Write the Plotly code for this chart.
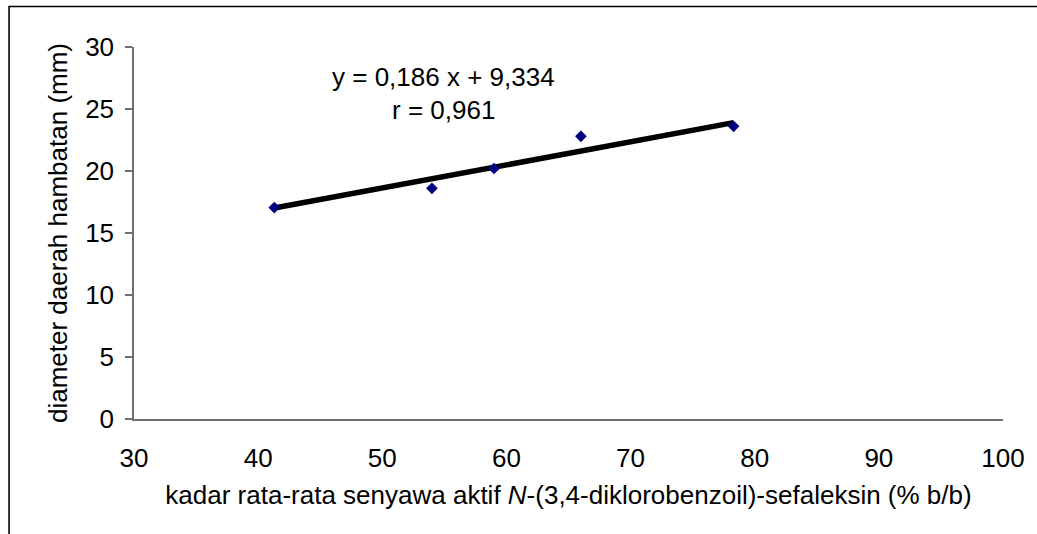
import numpy as np
import plotly.graph_objects as go

# Data
kadar = [41.3, 54.0, 59.0, 66.0, 78.3]          # % b/b
diameter = [17.05, 18.6, 20.2, 22.8, 23.6]       # mm
slope = 0.186
intercept = 9.334
r_value = 0.961

x_ticks = [30, 40, 50, 60, 70, 80, 90, 100]
y_ticks = [0, 5, 10, 15, 20, 25, 30]

W, H = 1037, 534
L, R, T, B = 134, 30, 47, 115

FONT = "Arial, 'Liberation Sans', sans-serif"
FS = 26

line_x = [min(kadar), max(kadar)]
line_y = [slope * v + intercept for v in line_x]

fig = go.Figure()
fig.add_trace(go.Scatter(
    x=line_x, y=line_y, mode="lines",
    line=dict(color="black", width=5.5),
    hoverinfo="skip", showlegend=False))
fig.add_trace(go.Scatter(
    x=kadar, y=diameter, mode="markers",
    marker=dict(symbol="diamond", size=9, color="#000080"),
    showlegend=False))

fmt = lambda v: f"{v:.3f}".replace(".", ",")
fig.add_annotation(x=54.9, y=27.6, xref="x", yref="y",
                   text=f"y = {fmt(slope)} x + {fmt(intercept)}",
                   showarrow=False, font=dict(size=FS, color="black", family=FONT))
fig.add_annotation(x=54.9, y=24.9, xref="x", yref="y",
                   text=f"r = {fmt(r_value)}",
                   showarrow=False, font=dict(size=FS, color="black", family=FONT))

pw = W - L - R
ph = H - T - B
def px2paper_x(px):
    return (px - L) / pw
def px2paper_y(py):
    return (H - B - py) / ph

fig.add_shape(type="rect", xref="paper", yref="paper",
              x0=px2paper_x(8.5), x1=px2paper_x(W + 20),
              y0=px2paper_y(H + 20), y1=px2paper_y(6.5),
              line=dict(color="black", width=1.6), fillcolor="rgba(0,0,0,0)",
              layer="above")

fig.update_layout(
    width=W, height=H,
    margin=dict(l=L, r=R, t=T, b=B, pad=0),
    paper_bgcolor="white", plot_bgcolor="white",
    font=dict(family=FONT, size=FS, color="black"),
    showlegend=False,
    xaxis=dict(
        range=[30, 100], tickvals=x_ticks, ticks="", showgrid=False, zeroline=False,
        showline=True, linecolor="#707070", linewidth=1.5,
        ticklabelstandoff=15,
        tickfont=dict(size=FS, color="black"),
        title=dict(text="kadar rata-rata senyawa aktif <i>N</i>-(3,4-diklorobenzoil)-sefaleksin (% b/b)",
                   font=dict(size=FS, color="black"), standoff=14),
    ),
    yaxis=dict(
        range=[0, 30], tickvals=y_ticks, ticks="outside", ticklen=7, tickcolor="#707070",
        tickwidth=1.5, showgrid=False, zeroline=False,
        showline=True, linecolor="#707070", linewidth=1.5,
        ticklabelstandoff=6,
        tickfont=dict(size=FS, color="black"),
        title=dict(text="diameter daerah hambatan (mm)",
                   font=dict(size=FS, color="black"), standoff=10),
    ),
)

fig.write_html("out.html", config={"displayModeBar": False},
               post_script="document.body.style.margin='0';document.body.style.overflow='hidden';")
